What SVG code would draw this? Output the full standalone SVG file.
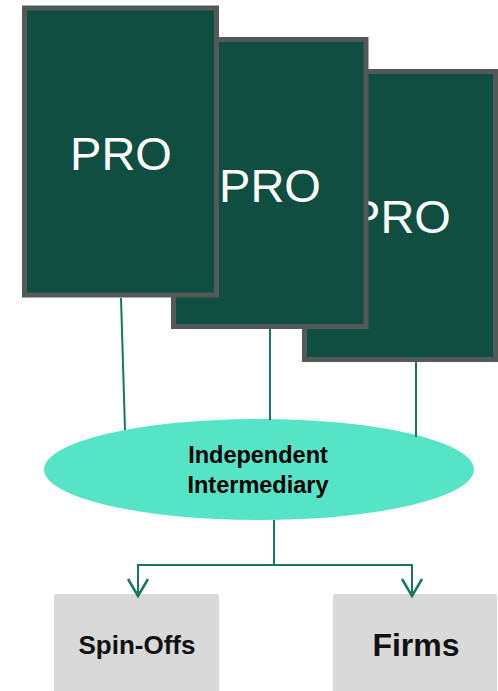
<svg xmlns="http://www.w3.org/2000/svg" width="498" height="691" viewBox="0 0 498 691">
  <style>
    .pro { fill: #0f4e40; stroke: #525a58; stroke-width: 5; }
    .pro-label { font-family: "Liberation Sans", Arial, sans-serif; font-size: 47px; fill: #ffffff; text-anchor: middle; }
    .link { stroke: #17785f; stroke-width: 2; fill: none; }
    .head { stroke: #17785f; stroke-width: 2.5; fill: none; }
    .hub { fill: #55e5c6; }
    .hub-label { font-family: "Liberation Sans", Arial, sans-serif; font-weight: bold; font-size: 23.5px; fill: #000000; text-anchor: middle; }
    .out { fill: #d9d9d9; }
    .out-label { font-family: "Liberation Sans", Arial, sans-serif; font-weight: bold; fill: #111111; text-anchor: middle; }
  </style>

  <rect width="498" height="691" fill="#ffffff"/>

  <!-- stacked PRO cards, back to front -->
  <g id="pro3">
    <rect class="pro" x="304.5" y="71.5" width="191" height="288"/>
    <text class="pro-label" x="400" y="233">PRO</text>
  </g>
  <g id="pro2">
    <rect class="pro" x="173.5" y="39.5" width="192.5" height="287"/>
    <text class="pro-label" x="270" y="202">PRO</text>
  </g>
  <g id="pro1">
    <rect class="pro" x="24.5" y="8" width="192" height="287"/>
    <text class="pro-label" x="121" y="170">PRO</text>
  </g>

  <!-- intermediary -->
  <g id="intermediary">
    <ellipse class="hub" cx="259" cy="469.5" rx="215" ry="50.5"/>
    <text class="hub-label" x="258" y="463">Independent</text>
    <text class="hub-label" x="258" y="493">Intermediary</text>
  </g>

  <!-- outcomes -->
  <g id="spin-offs">
    <rect class="out" x="54" y="594" width="165" height="110" rx="2"/>
    <text class="out-label" x="137" y="654" font-size="26">Spin-Offs</text>
  </g>
  <g id="firms">
    <rect class="out" x="333" y="594" width="164" height="110" rx="2"/>
    <text class="out-label" x="416" y="656" font-size="32">Firms</text>
  </g>

  <!-- connectors -->
  <g id="connectors">
    <line class="link" x1="121" y1="298" x2="125" y2="430"/>
    <line class="link" x1="270" y1="329" x2="270" y2="420"/>
    <line class="link" x1="416" y1="362" x2="416" y2="437"/>
    <polyline class="link" points="274,520 274,565 138,565 138,596"/>
    <polyline class="link" points="274,565 412,565 412,596"/>
    <path class="head" d="M128,579 L138,596 L148,579"/>
    <path class="head" d="M402,579 L412,596 L422,579"/>
  </g>
</svg>
